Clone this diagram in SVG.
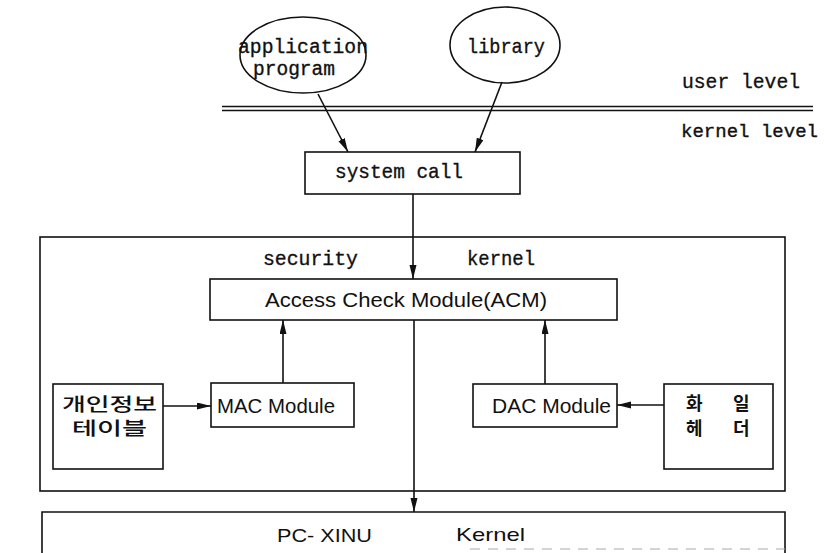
<svg xmlns="http://www.w3.org/2000/svg" width="824" height="553" viewBox="0 0 824 553">
<style>
.b{fill:none;stroke:#111;stroke-width:1.6}
.c{stroke:#111;stroke-width:1.6;fill:none}
.m{font-family:"Liberation Mono","DejaVu Sans Mono",monospace;font-size:21px;fill:#111;stroke:#111;stroke-width:0.35}
.s{font-family:"Liberation Sans","DejaVu Sans",sans-serif;fill:#111}
.k{font-family:"Noto Sans CJK KR","Noto Sans CJK SC",sans-serif;font-size:18px;font-weight:500;fill:#111}
.kb{font-weight:700}
</style>
<defs>
<marker id="ah" markerUnits="userSpaceOnUse" markerWidth="15" markerHeight="8" refX="14" refY="3.5" orient="auto">
<path d="M0,0 L14,3.5 L0,7 z" fill="#111"/>
</marker>
</defs>
<rect width="824" height="553" fill="#fff"/>

<g id="user-kernel-boundary">
<line x1="222" y1="106.5" x2="813" y2="106.5" stroke="#111" stroke-width="1.5"/>
<line x1="222" y1="110.5" x2="813" y2="110.5" stroke="#111" stroke-width="1.5"/>
<text class="m" x="682" y="88" textLength="118" lengthAdjust="spacingAndGlyphs">user level</text>
<text class="m" x="681" y="137" style="font-size:18px" textLength="137" lengthAdjust="spacingAndGlyphs">kernel level</text>
</g>

<g id="app-program">
<ellipse class="b" cx="303" cy="55" rx="63" ry="38"/>
<text class="m" x="238" y="53" style="font-size:20px" textLength="130" lengthAdjust="spacingAndGlyphs">application</text>
<text class="m" x="253" y="75" style="font-size:20px" textLength="82" lengthAdjust="spacingAndGlyphs">program</text>
</g>

<g id="library">
<ellipse class="b" cx="505" cy="45" rx="55" ry="38"/>
<text class="m" x="467" y="53" textLength="78" lengthAdjust="spacingAndGlyphs">library</text>
</g>

<g id="system-call">
<rect class="b" x="305" y="152" width="215" height="42"/>
<text class="m" x="335" y="178" textLength="128" lengthAdjust="spacingAndGlyphs">system call</text>
</g>

<g id="security-kernel">
<rect class="b" x="40" y="237" width="745" height="254"/>
<text class="m" x="263" y="265" textLength="95" lengthAdjust="spacingAndGlyphs">security</text>
<text class="m" x="467" y="265" textLength="68" lengthAdjust="spacingAndGlyphs">kernel</text>
</g>

<g id="acm">
<rect class="b" x="210" y="279" width="407" height="41"/>
<text class="s" x="265" y="307" font-size="21" textLength="282" lengthAdjust="spacingAndGlyphs">Access Check Module(ACM)</text>
</g>

<g id="personal-info-table">
<rect class="b" x="53" y="384" width="110" height="85"/>
<text class="k" x="62" y="411" textLength="95" lengthAdjust="spacingAndGlyphs">개인정보</text>
<text class="k" x="72" y="435" textLength="75" lengthAdjust="spacingAndGlyphs">테이블</text>
</g>

<g id="mac-module">
<rect class="b" x="211" y="383" width="143" height="44"/>
<text class="s" x="217" y="413" font-size="20" textLength="118" lengthAdjust="spacingAndGlyphs">MAC Module</text>
</g>

<g id="dac-module">
<rect class="b" x="473" y="384" width="144" height="43"/>
<text class="s" x="492" y="413" font-size="20" textLength="119" lengthAdjust="spacingAndGlyphs">DAC Module</text>
</g>

<g id="file-header">
<rect class="b" x="664" y="384" width="109" height="85"/>
<text class="k kb" x="686" y="410">화</text>
<text class="k kb" x="733" y="410">일</text>
<text class="k kb" x="686" y="435">헤</text>
<text class="k kb" x="733" y="435">더</text>
</g>

<g id="pc-xinu-kernel">
<path class="b" d="M42,556 L42,512 L785,512 L785,556"/>
<line x1="470" y1="549" x2="785" y2="549" stroke="#aaa" stroke-width="1.2" stroke-dasharray="10,8"/>
<text class="s" x="277" y="542" font-size="19" textLength="95" lengthAdjust="spacingAndGlyphs">PC- XINU</text>
<text class="s" x="456" y="541" font-size="19" textLength="69" lengthAdjust="spacingAndGlyphs">Kernel</text>
</g>

<g id="connectors">
<line class="c" x1="318" y1="94" x2="348" y2="152" marker-end="url(#ah)"/>
<line class="c" x1="502" y1="82" x2="475" y2="152" marker-end="url(#ah)"/>
<line class="c" x1="413" y1="194" x2="413" y2="279" marker-end="url(#ah)"/>
<line class="c" x1="283" y1="383" x2="283" y2="320" marker-end="url(#ah)"/>
<line class="c" x1="545" y1="384" x2="545" y2="320" marker-end="url(#ah)"/>
<line class="c" x1="163" y1="406" x2="211" y2="406" marker-end="url(#ah)"/>
<line class="c" x1="664" y1="405" x2="617" y2="405" marker-end="url(#ah)"/>
<line class="c" x1="414" y1="320" x2="414" y2="512" marker-end="url(#ah)"/>
</g>
</svg>
